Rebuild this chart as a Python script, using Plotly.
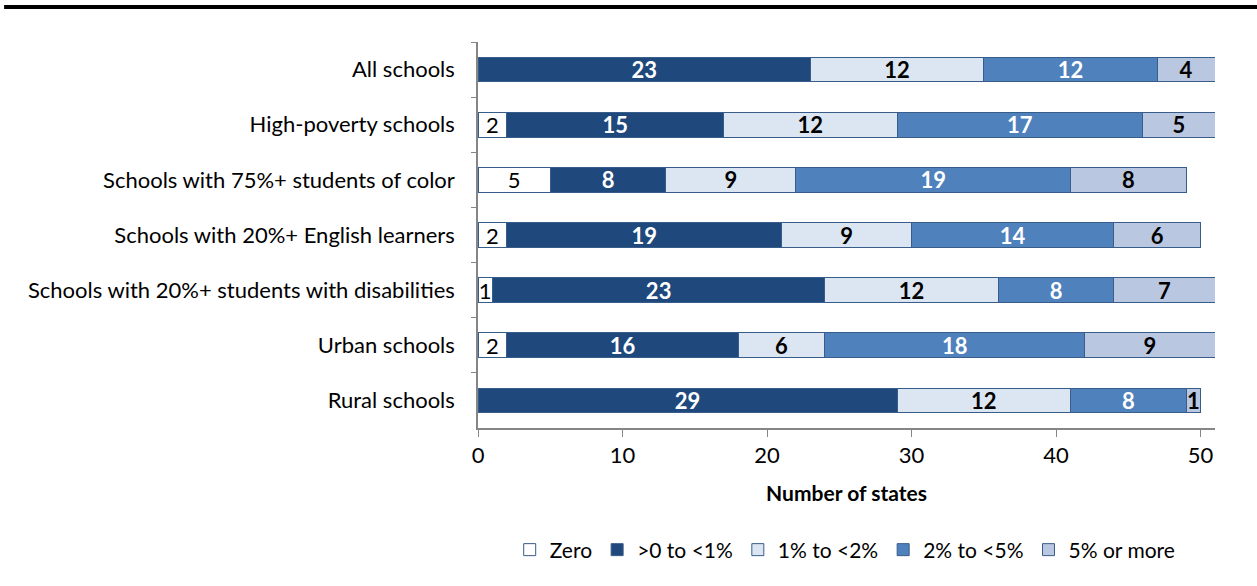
import plotly.graph_objects as go

categories = ["All schools", "High-poverty schools", "Schools with 75%+ students of color",
              "Schools with 20%+ English learners", "Schools with 20%+ students with disabilities",
              "Urban schools", "Rural schools"]
series_names = ["Zero", ">0 to <1%", "1% to <2%", "2% to <5%", "5% or more"]
zero = [0, 2, 5, 2, 1, 2, 0]
lt1 = [23, 15, 8, 19, 23, 16, 29]
p1to2 = [12, 12, 9, 9, 12, 6, 12]
p2to5 = [12, 17, 19, 14, 8, 18, 8]
p5plus = [4, 5, 8, 6, 7, 9, 1]

values = [zero, lt1, p1to2, p2to5, p5plus]
fills = ["#FFFFFF", "#1F497D", "#DCE6F2", "#4F81BD", "#B9C7E0"]
text_colors = ["#000000", "#FFFFFF", "#000000", "#FFFFFF", "#000000"]
bolds = [False, True, True, True, True]

FONT = "Lato, 'Liberation Sans', sans-serif"
FS = 22

fig = go.Figure()
for name, vals, fill, tc, b in zip(series_names, values, fills, text_colors, bolds):
    txt = [("" if v == 0 else (f"<b>{v}</b>" if b else f"{v}")) for v in vals]
    fig.add_trace(go.Bar(
        y=categories, x=vals, name=name, orientation="h",
        marker=dict(color=fill, line=dict(color="#385D8A", width=1)),
        text=txt, textposition="inside", insidetextanchor="middle", textangle=0,
        textfont=dict(color=tc, size=FS, family=FONT),
        hoverinfo="x+name",
    ))

fig.update_layout(
    barmode="stack", bargap=0.55,
    width=1257, height=586,
    margin=dict(l=478, r=42, t=42, b=158),
    paper_bgcolor="white", plot_bgcolor="white",
    font=dict(family=FONT, size=FS, color="#000000"),
    uniformtext=dict(minsize=FS - 1, mode="show"),
    showlegend=True,
    legend=dict(orientation="h", x=0.043, xanchor="left", y=-0.316, yanchor="middle",
                font=dict(size=FS - 1), traceorder="normal", itemwidth=30),
    shapes=[dict(type="line", xref="paper", yref="paper", x0=-0.643, x1=1.1,
                 y0=1.0907, y1=1.0907, line=dict(color="#000000", width=4))],
)
fig.update_xaxes(range=[0, 51], tickvals=[0, 10, 20, 30, 40, 50], showgrid=False,
                 showline=True, linecolor="#868686", linewidth=1.5,
                 ticks="outside", ticklen=7, tickcolor="#868686",
                 tickfont=dict(size=FS), zeroline=False,
                 title=dict(text="<b>Number of states</b>", font=dict(size=FS - 1), standoff=19))
fig.update_yaxes(autorange="reversed", showgrid=False, showline=True,
                 linecolor="#868686", linewidth=1.5, ticks="outside", ticklen=5,
                 tickcolor="#868686", tickson="boundaries", tickfont=dict(size=FS),
                 ticklabelstandoff=17)

fig.write_html("out.html")
